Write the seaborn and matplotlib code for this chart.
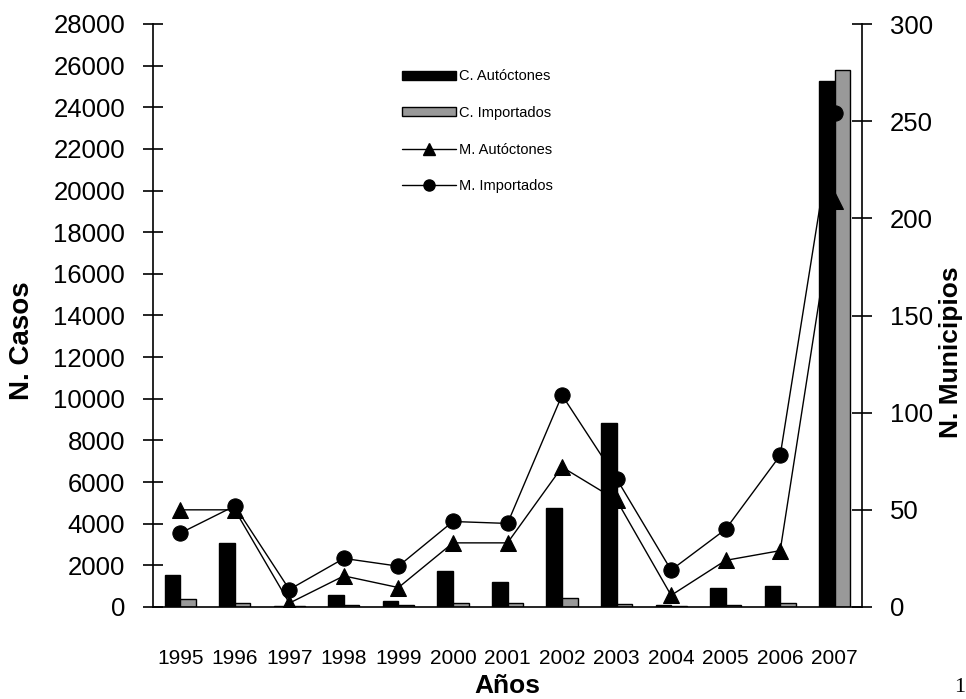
import numpy as np
import pandas as pd
import matplotlib
matplotlib.use("Agg")
import matplotlib.pyplot as plt
import seaborn as sns
from matplotlib.patches import Patch
from matplotlib.lines import Line2D

# ---- data ----
years = ["1995", "1996", "1997", "1998", "1999", "2000", "2001",
         "2002", "2003", "2004", "2005", "2006", "2007"]
c_autoctones = [1550, 3050, 60, 570, 280, 1720, 1180, 4750, 8850, 100, 900, 1000, 25280]
c_importados = [380, 170, 40, 90, 90, 180, 170, 450, 160, 50, 90, 180, 25800]
m_autoctones = [50, 50, 2, 16, 10, 33, 33, 72, 55, 6, 24, 29, 209]
m_importados = [38, 52, 9, 25, 21, 44, 43, 109, 66, 19, 40, 78, 254]
bar_series = ["C. Autóctones", "C. Importados"]
line_series = ["M. Autóctones", "M. Importados"]
left_ticks = list(range(0, 28001, 2000))
right_ticks = list(range(0, 301, 50))

sns.set_style("white")
plt.rcParams["font.family"] = ["Liberation Sans", "DejaVu Sans"]
plt.rcParams["text.color"] = "black"
plt.rcParams["xtick.color"] = "black"
plt.rcParams["ytick.color"] = "black"
plt.rcParams["axes.labelcolor"] = "black"

W, H = 966, 699
fig = plt.figure(figsize=(W / 100, H / 100), dpi=100)
ax = fig.add_axes([153 / W, 1 - 607 / H, (862 - 153) / W, (607 - 24) / H])

bars = pd.DataFrame({
    "Año": years * 2,
    "Casos": c_autoctones + c_importados,
    "Serie": [bar_series[0]] * len(years) + [bar_series[1]] * len(years),
})
sns.barplot(data=bars, x="Año", y="Casos", hue="Serie", hue_order=bar_series,
            palette={bar_series[0]: "black", bar_series[1]: "#999999"},
            width=0.57, edgecolor="black", linewidth=1, saturation=1,
            ax=ax, legend=False)

ax.set_xlim(-0.5, len(years) - 0.5)
ax.set_ylim(0, 28000)
ax.set_yticks(left_ticks)
ax.set_yticklabels([str(t) for t in left_ticks])
ax.set_xticks(np.arange(-0.5, len(years), 1))
ax.set_xticklabels([])
ax.set_xticks(np.arange(len(years)), minor=True)
ax.set_xticklabels(years, minor=True, fontsize=15)
ax.tick_params(axis="x", which="major", direction="inout", length=14, width=1.2, color="black")
ax.tick_params(axis="x", which="minor", length=0, pad=30, labelcolor="black")
ax.tick_params(axis="y", direction="inout", length=14, width=1.2, color="black",
               labelsize=18.5, pad=13, left=True, labelcolor="black")
ax.set_xlabel("")
ax.set_ylabel("")
for s in ["top", "right"]:
    ax.spines[s].set_visible(False)
for s in ["left", "bottom"]:
    ax.spines[s].set_color("black")
    ax.spines[s].set_linewidth(1.2)

ax2 = ax.twinx()
lines = pd.DataFrame({
    "pos": list(range(len(years))) * 2,
    "Municipios": m_autoctones + m_importados,
    "Serie": [line_series[0]] * len(years) + [line_series[1]] * len(years),
})
sns.lineplot(data=lines[lines["Serie"] == line_series[0]], x="pos", y="Municipios",
             color="black", linewidth=1, marker="^", markersize=12,
             markeredgecolor="black", ax=ax2, label=line_series[0], legend=False)
sns.lineplot(data=lines[lines["Serie"] == line_series[1]], x="pos", y="Municipios",
             color="black", linewidth=1, marker="o", markersize=11,
             markeredgecolor="black", ax=ax2, label=line_series[1], legend=False)
ax2.set_ylim(0, 300)
ax2.set_yticks(right_ticks)
ax2.set_yticklabels([str(t) for t in right_ticks])
ax2.set_xlim(-0.5, len(years) - 0.5)
ax2.tick_params(axis="y", direction="inout", length=14, width=1.2, color="black",
                labelsize=18.5, pad=13, right=True, labelcolor="black")
ax2.set_xlabel("")
ax2.set_ylabel("")
for s in ["top", "left", "bottom"]:
    ax2.spines[s].set_visible(False)
ax2.spines["right"].set_color("black")
ax2.spines["right"].set_linewidth(1.2)

# legend
handles = [
    Patch(facecolor="black", edgecolor="black"),
    Patch(facecolor="#999999", edgecolor="black"),
    Line2D([], [], color="black", linewidth=1, marker="^", markersize=8),
    Line2D([], [], color="black", linewidth=1, marker="o", markersize=8),
]
fig.legend(handles, bar_series + line_series, loc="upper left",
           bbox_to_anchor=(395 / W, 1 - 62 / H), frameon=False, fontsize=10.5,
           handlelength=3.7, handleheight=0.6, handletextpad=0.2,
           labelspacing=1.55, borderpad=0, numpoints=1)

fig.text(22 / W, 1 - 341 / H, "N. Casos", rotation=90, ha="center", va="center",
         fontsize=20, fontweight="bold")
fig.text(951 / W, 1 - 352 / H, "N. Municipios", rotation=90, ha="center", va="center",
         fontsize=19, fontweight="bold")
fig.text(507 / W, 1 - 686 / H, "Años", ha="center", va="center",
         fontsize=19, fontweight="bold")
fig.text(954 / W, 1 - 688 / H, "1", ha="left", va="center",
         fontsize=16, family=["Liberation Serif", "DejaVu Serif"])

fig.savefig("out.png", dpi=100)
